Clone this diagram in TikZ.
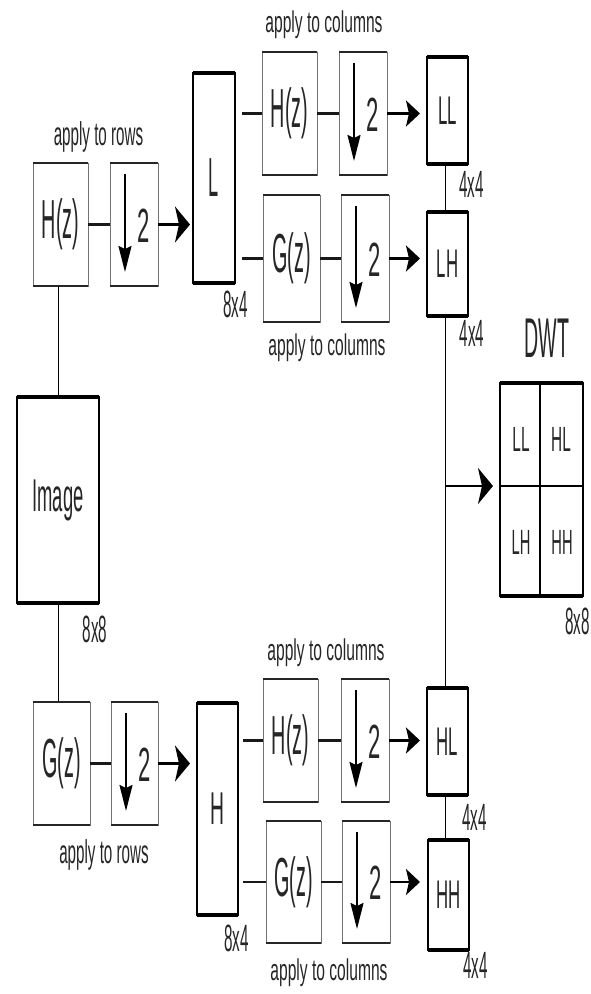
\documentclass[tikz,border=0pt]{standalone}
\usepackage{fontspec}
\setmainfont{Liberation Sans}
\usepackage{graphicx}
\usetikzlibrary{arrows.meta}
\newcommand{\sqz}[3]{{\fontsize{#2pt}{#2pt}\selectfont\scalebox{#1}[1]{#3}}}
\tikzset{
  fbox/.style={draw=black!55, line width=0.9pt, inner sep=0pt, outer sep=0pt, text=black!85},
  dbox/.style={draw=black, line width=1.6pt, inner sep=0pt, outer sep=0pt, text=black!85},
  fedge/.style={line width=2.6pt, draw=black!85},
  dedge/.style={line width=3.6pt, draw=black},
  txt/.style={inner sep=0pt, outer sep=0pt, text=black!85},
  conn/.style={line width=2.2pt, draw=black!90},
  vline/.style={line width=1pt, draw=black},
  harr/.style={line width=2.4pt, -{Stealth[length=15pt,width=36pt,inset=4pt]}},
  harrs/.style={line width=2.4pt, -{Stealth[length=14pt,width=26pt,inset=3pt]}},
  varr/.style={line width=1.8pt, -{Stealth[length=26pt,width=13pt,inset=3pt]}}
}
\newcommand{\lab}[1]{\sqz{0.36}{55}{#1}}
\newcommand{\two}{\sqz{0.46}{48}{2}}
\newcommand{\sz}[1]{\sqz{0.4}{38}{#1}}
\newcommand{\cols}{\sqz{0.52}{30}{apply to columns}}
\newcommand{\rows}{\sqz{0.46}{33}{apply to rows}}
\begin{document}
\begin{tikzpicture}[x=1pt,y=-1pt]
\useasboundingbox (0,0) rectangle (590,994);
% ---------- top branch ----------
\node[fbox, minimum width=55pt, minimum height=123pt] (hz1) at (60.5,224.5) {\lab{H(z)}};
\node[fbox, minimum width=48pt, minimum height=123pt] (ds1) at (134,224.5) {};
\node[dbox, minimum width=42pt, minimum height=210pt] (L) at (214,178) {\sqz{0.33}{55}{L}};
\node[fbox, minimum width=55pt, minimum height=123pt] (hz2) at (289.5,113.5) {\lab{H(z)}};
\node[fbox, minimum width=48pt, minimum height=123pt] (ds2) at (363,113.5) {};
\node[dbox, minimum width=41pt, minimum height=107pt] (LL) at (447.5,110.5) {\sqz{0.42}{40}{LL}};
\node[fbox, minimum width=57pt, minimum height=127pt] (gz2) at (291.5,258.5) {\lab{G(z)}};
\node[fbox, minimum width=48pt, minimum height=127pt] (ds3) at (365,258.5) {};
\node[dbox, minimum width=41pt, minimum height=104pt] (LH) at (447.5,264) {\sqz{0.42}{40}{LH}};
% ---------- image ----------
\node[dbox, minimum width=82pt, minimum height=206pt] (img) at (58,500) {\sqz{0.40}{46}{Image}};
% ---------- bottom branch ----------
\node[fbox, minimum width=57pt, minimum height=123pt] (gz1) at (61.5,763.5) {\lab{G(z)}};
\node[fbox, minimum width=47pt, minimum height=123pt] (ds4) at (134.5,763.5) {};
\node[dbox, minimum width=41pt, minimum height=212pt] (H) at (217.5,809) {\sqz{0.42}{46}{H}};
\node[fbox, minimum width=55pt, minimum height=123pt] (hz3) at (290.5,740.5) {\lab{H(z)}};
\node[fbox, minimum width=48pt, minimum height=123pt] (ds5) at (365,740.5) {};
\node[dbox, minimum width=41pt, minimum height=107pt] (HL) at (447.5,741.5) {\sqz{0.42}{40}{HL}};
\node[fbox, minimum width=55pt, minimum height=122pt] (gz3) at (293.5,882) {\lab{G(z)}};
\node[fbox, minimum width=48pt, minimum height=122pt] (ds6) at (366,882) {};
\node[dbox, minimum width=41pt, minimum height=110pt] (HH) at (448.5,895) {\sqz{0.42}{40}{HH}};
% ---------- DWT ----------
\node[dbox, minimum width=83pt, minimum height=213pt] (dwt) at (541.5,489.5) {};
\coordinate (dtop) at (540,383);
\coordinate (dbot) at (540,596);
\coordinate (dlef) at (500,486);
\coordinate (drig) at (583,486);
\draw[line width=1.8pt] (dtop) -- (dbot);
\draw[line width=1.8pt] (dlef) -- (drig);
\node[txt] (qLL) at (521,439) {\sqz{0.44}{35}{LL}};
\node[txt] (qHL) at (561,439) {\sqz{0.44}{35}{HL}};
\node[txt] (qLH) at (521,542) {\sqz{0.42}{35}{LH}};
\node[txt] (qHH) at (562,542) {\sqz{0.42}{35}{HH}};
\node[txt] (dwtl) at (547,338) {\sqz{0.35}{56}{DWT}};
% thick top/bottom edges
\foreach \n in {hz1,ds1,hz2,ds2,gz2,ds3,gz1,ds4,hz3,ds5,gz3,ds6}
  \draw[fedge] (\n.north west) -- (\n.north east) (\n.south west) -- (\n.south east);
\foreach \n in {L,LL,LH,img,H,HL,HH,dwt}
  \draw[dedge] (\n.north west) -- (\n.north east) (\n.south west) -- (\n.south east);
% downsampling symbols
\foreach \n in {ds1,ds2,ds3,ds4,ds5,ds6}{
  \draw[varr] ([xshift=15pt,yshift=-11pt]\n.north west) -- ([xshift=15pt,yshift=14pt]\n.south west);
  \node[txt] (\n t) at ([xshift=34pt,yshift=-1pt]\n.west) {\two};
}
% connectors
\draw[conn] (hz1) -- (ds1);
\draw[harr, shorten >=3pt] (ds1.east) -- (ds1.east -| L.west);
\draw[conn, shorten >=7pt] (hz2.west) -- (hz2.west -| L.east);
\draw[conn, shorten >=7pt] (gz2.west) -- (gz2.west -| L.east);
\draw[conn] (hz2) -- (ds2);
\draw[conn] (gz2) -- (ds3);
\draw[harrs, shorten >=7pt] (ds2.east) -- (ds2.east -| LL.west);
\draw[harrs, shorten >=7pt] (ds3.east) -- (ds3.east -| LH.west);
\draw[vline] ([xshift=-2.5pt]LL.south) -- ([xshift=-2.5pt]LH.north);
\draw[vline] ([xshift=-2.5pt]LH.south) -- ([xshift=-2.5pt]HL.north);
\draw[vline] ([xshift=-2.5pt]HL.south) -- ([xshift=-2.5pt]HL.south |- HH.north);
\coordinate (j) at ([xshift=-2.5pt]LH.south |- dlef);
\draw[harr, shorten >=7pt] (j) -- (dlef);
\draw[vline] (img.north |- hz1.south) -- (img.north);
\draw[vline] (img.south) -- (img.south |- gz1.north);
\draw[conn] (gz1) -- (ds4);
\draw[harr, shorten >=7pt] (ds4.east) -- (ds4.east -| H.west);
\draw[conn, shorten >=5pt] (hz3.west) -- (hz3.west -| H.east);
\draw[conn, shorten >=5pt] (gz3.west) -- (gz3.west -| H.east);
\draw[conn] (hz3) -- (ds5);
\draw[conn] (gz3) -- (ds6);
\draw[harrs, shorten >=7pt] (ds5.east) -- (ds5.east -| HL.west);
\draw[harrs, shorten >=8pt] (ds6.east) -- (ds6.east -| HH.west);
% text labels
\node[txt] (r1) at (98.5,137) {\rows};
\node[txt] (r2) at (104,855) {\rows};
\node[txt] (c1) at (324,25) {\cols};
\node[txt] (c2) at (327,348) {\cols};
\node[txt] (c3) at (326,653) {\cols};
\node[txt] (c4) at (329,973) {\cols};
\node[txt] (s1) at (235.5,304) {\sz{8x4}};
\node[txt] (s2) at (471.5,184) {\sz{4x4}};
\node[txt] (s3) at (472,333) {\sz{4x4}};
\node[txt] (s4) at (95,629) {\sz{8x8}};
\node[txt] (s5) at (577.5,621) {\sz{8x8}};
\node[txt] (s6) at (474.5,817) {\sz{4x4}};
\node[txt] (s7) at (236.5,938) {\sz{8x4}};
\node[txt] (s8) at (475.5,965) {\sz{4x4}};
\end{tikzpicture}
\end{document}
